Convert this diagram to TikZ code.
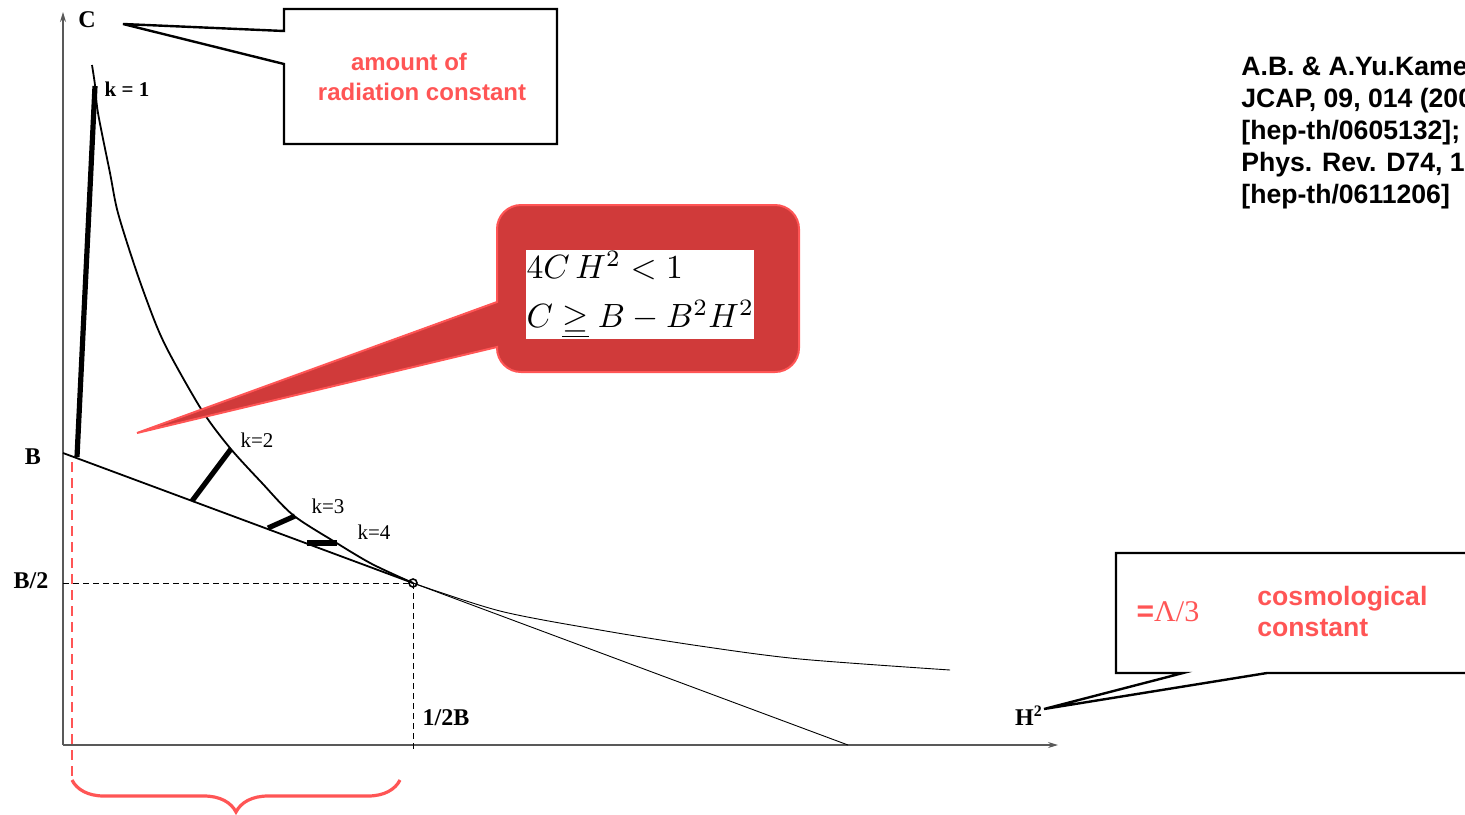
\documentclass[tikz,border=0pt]{standalone}
\usepackage{fontspec}
\newfontfamily\arialfont{Liberation Sans}
\newfontfamily\timesfont{Liberation Serif}
\usetikzlibrary{arrows.meta,decorations.pathreplacing}
\definecolor{notered}{RGB}{255,85,85}
\definecolor{boxred}{RGB}{208,58,58}
\begin{document}
\begin{tikzpicture}[x=0.5pt,y=-0.5pt,
  axis/.style={draw=gray!70!black,line width=0.6pt,-{Stealth[length=5pt,width=3pt]}},
  curve/.style={line width=0.9pt},
  thin curve/.style={line width=0.45pt},
  level/.style={line width=2.6pt},
  guide/.style={line width=0.45pt,dash pattern=on 3pt off 2pt},
  callout/.style={draw,line width=1.2pt,fill=white},
  axlabel/.style={font=\timesfont\bfseries\fontsize{12}{14}\selectfont,inner sep=0pt},
  klabel/.style={font=\timesfont\fontsize{10.5}{12}\selectfont,inner sep=0pt},
  redtext/.style={text=notered,font=\arialfont\bfseries\fontsize{12}{15}\selectfont,
    align=center,inner sep=0pt},
  reftext/.style={font=\arialfont\bfseries\fontsize{13.3}{16}\selectfont,
    align=left,inner sep=0pt}]
\useasboundingbox (0,0) rectangle (1465,814);
\coordinate (O) at (63,745);
\coordinate (ytip) at (63,12);
\coordinate (xtip) at (1058,745);
\coordinate (B) at (63,453);
\coordinate (T) at (413,583);
\coordinate (Z) at (848,745);
\coordinate (Bhalf) at (63,583);
\coordinate (Tfoot) at (413,750);
\draw[axis] (O) -- (ytip);
\draw[axis] (O) -- (xtip);
\draw[guide] (Bhalf) -- (T) -- (Tfoot);
\draw[curve] (B) -- (T);
\draw[thin curve] (T) -- (Z);
\draw[curve] plot[smooth] coordinates {(92,65) (95,85) (98,113) (110,173) (118,213)
  (137,273) (157,327) (173,360) (203,412) (230,448) (262,483) (293,515) (335,542)
  (372,564) (413,583)};
\draw[thin curve] plot[smooth] coordinates {(413,583) (500,611) (600,630) (700,646)
  (800,659) (950,670)};
\draw[line width=0.8pt] (T) circle[radius=2pt];
\draw[level] (77,457) -- (95,86);
\draw[level] (192,501) -- (231,449);
\draw[level] (268,528) -- (295,516);
\draw[level] (307,543) -- (337,543);
\node[klabel,font=\timesfont\bfseries\fontsize{10.5}{12}\selectfont] (k1) at (127,89) {k = 1};
\node[klabel] (k2) at (257,440) {k=2};
\node[klabel] (k3) at (328,506) {k=3};
\node[klabel] (k4) at (374,532) {k=4};
\node[axlabel] (lC) at (87,20) {C};
\node[axlabel] (lB) at (33,457) {B};
\node[axlabel] (lB2) at (31,581) {B/2};
\node[axlabel] (lH) at (446,718) {1/2B};
\node[axlabel] (lH2) at (1029,716) {H\textsuperscript{2}};
% callouts
\draw[callout] (284,9) -- (557,9) -- (557,144) -- (284,144) -- (284,64) -- (123,24)
  -- (284,31) -- cycle;
\node[redtext] (rad) at (422,77) {amount of\hspace*{13pt}\\radiation constant};
\draw[draw=notered,fill=boxred,line width=1pt] (497,347) [rounded corners=12pt]
  -- (497,372) -- (799,372) -- (799,205) -- (497,205) [sharp corners] -- (497,302)
  -- (137,433) -- cycle;
\node[fill=white,inner sep=0pt,anchor=north west,minimum width=114pt,minimum height=43.5pt]
  (ineq) at (526,250) {\scalebox{1.68}{\begin{tabular}{@{}l@{}}
  $4C\,H^2<1$\\[2.5pt] $C\mathrel{\underline{\geq}}B-B^2H^2$\end{tabular}}};
\begin{scope}
\clip (0,0) rectangle (1465,814);
\draw[callout] (1116,553) -- (1480,553) -- (1480,673) -- (1267,673) -- (1044,709)
  -- (1183,673) -- (1116,673) -- cycle;
\node[text=notered,inner sep=0pt,font=\timesfont\fontsize{15}{17}\selectfont] (lam)
  at (1168,612) {{\arialfont\bfseries =}Λ/3};
\node[redtext,align=left,anchor=west,font=\arialfont\bfseries\fontsize{13.3}{15.5}\selectfont]
  (cosm) at (1257,611) {cosmological\\constant};
\node[reftext,anchor=north west] (refs) at (1241,56) {A.B. \& A.Yu.Kamenshchik,\\
  JCAP, 09, 014 (2006)\\{}[hep-th/0605132];\\Phys. Rev. D74, 121502 (2006)\\{}[hep-th/0611206]};
\end{scope}
% bracket under the axis
\coordinate (bl) at (72,780);
\coordinate (br) at (400,780);
\draw[notered,line width=1.3pt,dash pattern=on 5pt off 3pt] (72,462) -- (72,776);
\draw[notered,line width=1.6pt,decorate,decoration={brace,mirror,amplitude=16pt}] (bl) -- (br);
\end{tikzpicture}
\end{document}
